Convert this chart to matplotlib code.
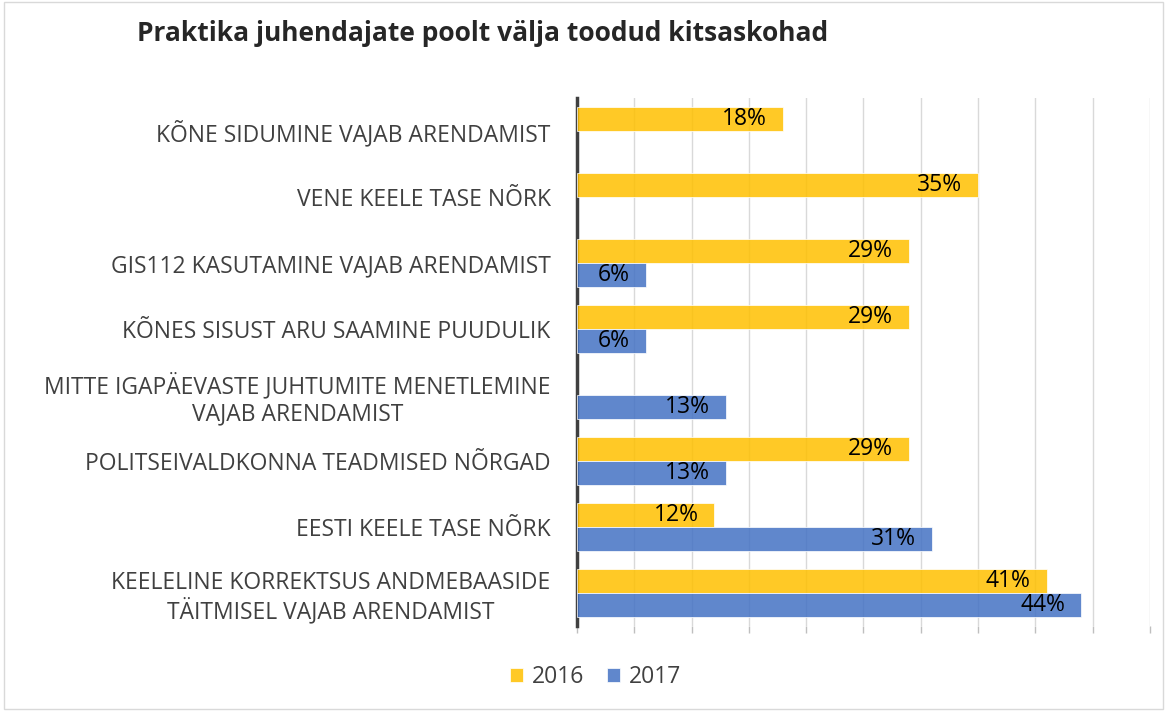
import matplotlib.pyplot as plt
from matplotlib.patches import Rectangle
import numpy as np

# kategooriad ülevalt alla
categories = [
    'KÕNE SIDUMINE VAJAB ARENDAMIST',
    'VENE KEELE TASE NÕRK',
    'GIS112 KASUTAMINE VAJAB ARENDAMIST',
    'KÕNES SISUST ARU SAAMINE PUUDULIK',
    'MITTE IGAPÄEVASTE JUHTUMITE MENETLEMINE\nVAJAB ARENDAMIST',
    'POLITSEIVALDKONNA TEADMISED NÕRGAD',
    'EESTI KEELE TASE NÕRK',
    'KEELELINE KORREKTSUS ANDMEBAASIDE\nTÄITMISEL VAJAB ARENDAMIST',
]
values_2016 = [18, 35, 29, 29, None, 29, 12, 41]
values_2017 = [None, None, 6, 6, 13, 13, 31, 44]
series_labels = ['2016', '2017']

yellow = '#FFC000'
blue = '#4472C4'
text_col = '#404040'

plt.rcParams['font.family'] = ['Open Sans', 'DejaVu Sans']

fig = plt.figure(figsize=(11.67, 7.11), dpi=100)
ax = fig.add_axes([0.4944, 0.1195, 0.491, 0.7426])

y = np.arange(len(categories))
h = 0.36

for vals, off, col, lab in [(values_2016, -h / 2, yellow, series_labels[0]),
                            (values_2017, h / 2, blue, series_labels[1])]:
    idx = [i for i, v in enumerate(vals) if v is not None]
    vv = [vals[i] for i in idx]
    bars = ax.barh(y[idx] + off, vv, height=h, color=col, alpha=0.85,
                   edgecolor='white', linewidth=0.6, label=lab, zorder=3)
    for b, v in zip(bars, vv):
        ax.text(b.get_width() - 1.4, b.get_y() + b.get_height() / 2, f'{v}%',
                ha='right', va='center', fontsize=16.5, color='black', zorder=4)

ax.set_xlim(0, 50)
ax.set_ylim(len(categories) - 0.5, -0.5)
ax.set_xticks(np.arange(0, 51, 5))
ax.set_xticklabels([])
ax.tick_params(axis='x', length=5, color='#BFBFBF', width=1)
ax.grid(axis='x', color='#D9D9D9', linewidth=1, zorder=0)
ax.set_axisbelow(True)

ax.set_yticks(y)
ax.set_yticklabels(categories, fontsize=16.5, color=text_col,
                   multialignment='center', linespacing=1.15)
ax.tick_params(axis='y', length=0, pad=19)

for s in ['top', 'right', 'bottom']:
    ax.spines[s].set_visible(False)
ax.spines['left'].set_color('#404040')
ax.spines['left'].set_linewidth(2.5)

fig.text(0.1175, 0.953, 'Praktika juhendajate poolt välja toodud kitsaskohad',
         fontsize=19, fontweight='bold', color='#262626', ha='left', va='center')

handles, labels = ax.get_legend_handles_labels()
fig.legend(handles, labels, loc='center', bbox_to_anchor=(0.51, 0.048), ncol=2,
           frameon=False, fontsize=16.5, handlelength=0.6, handleheight=0.6,
           columnspacing=1.0, handletextpad=0.35, labelcolor=text_col)

fig.patches.append(Rectangle((0.003, 0.003), 0.994, 0.994, transform=fig.transFigure,
                             fill=False, edgecolor='#D9D9D9', linewidth=1))

fig.savefig('out.png', dpi=100)
